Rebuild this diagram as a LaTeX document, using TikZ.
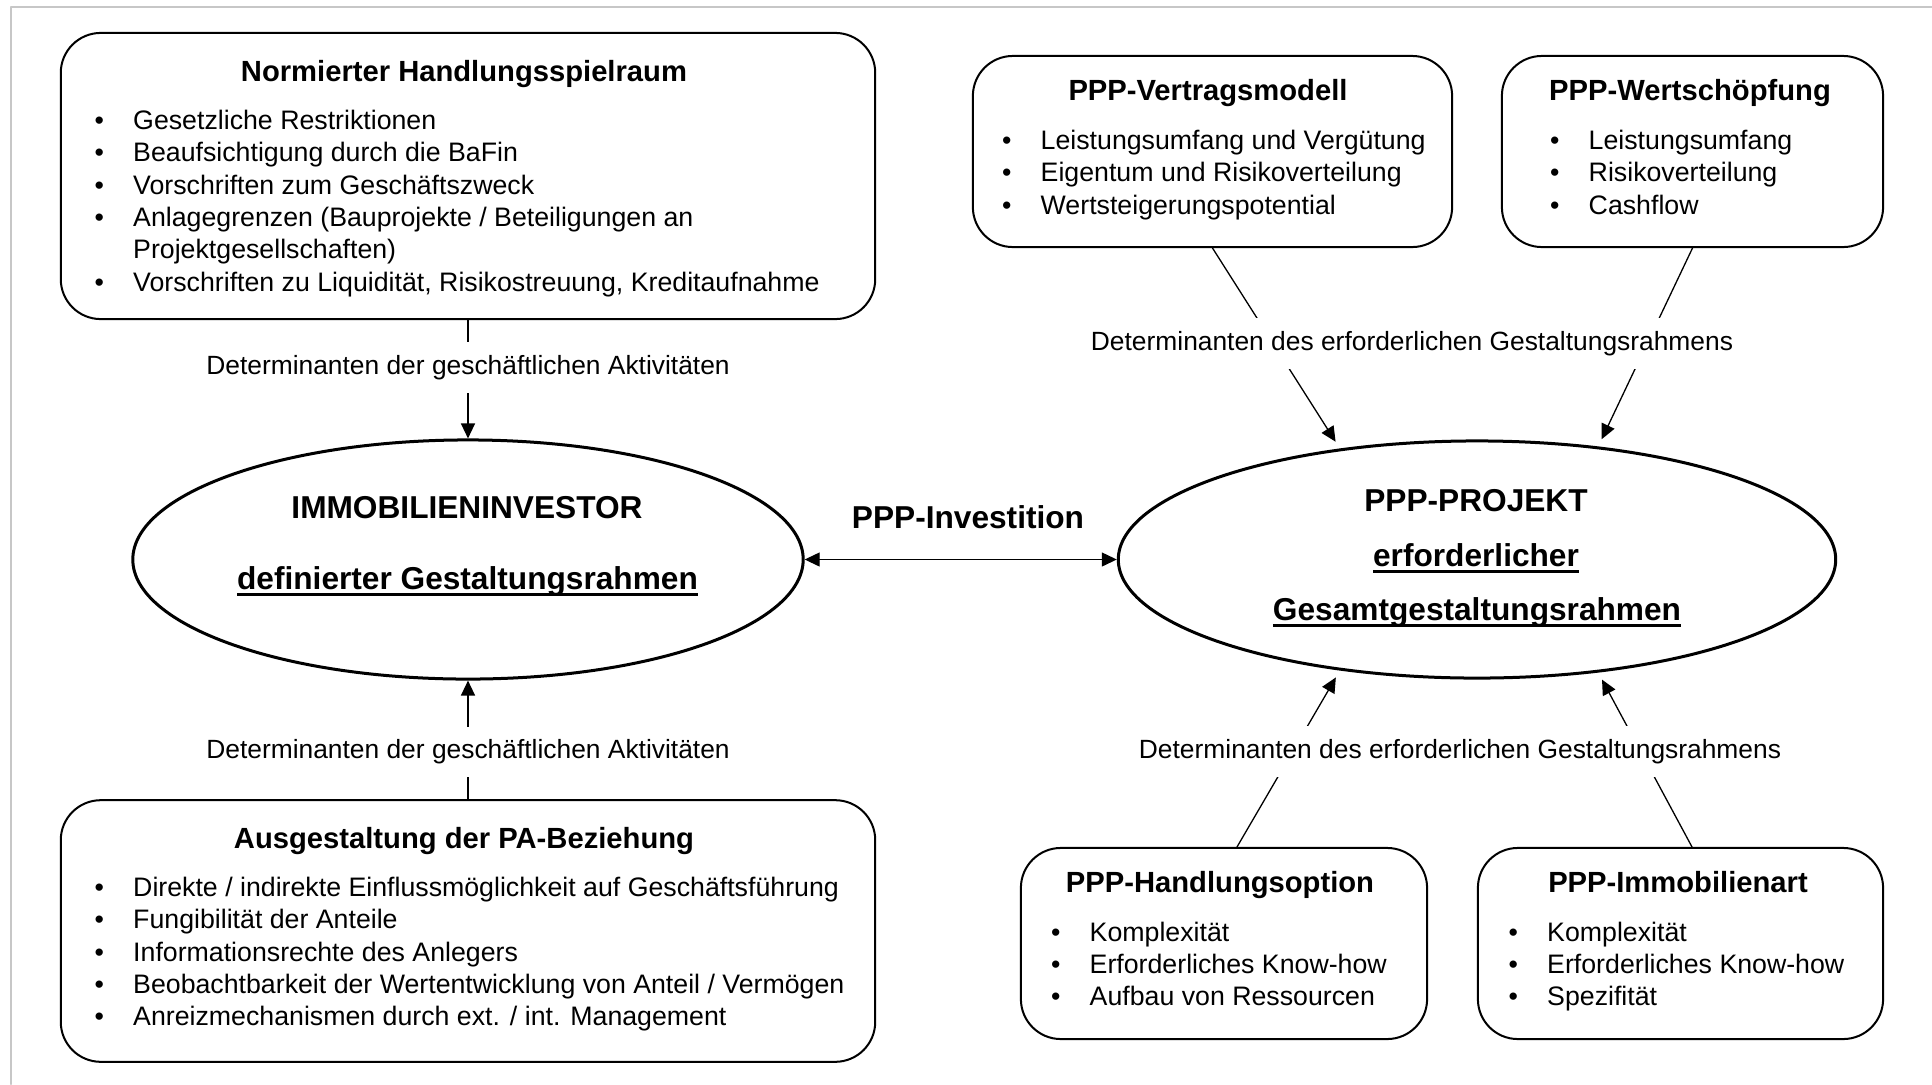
\documentclass[tikz,border=0pt]{standalone}
\usepackage{fontspec}
\setmainfont{Liberation Sans}
\usepackage{tikz}
\usetikzlibrary{arrows.meta,shapes.geometric}
\newcommand{\itm}[1]{\makebox[0.385cm][l]{\textbullet}#1}
\newcommand{\wordul}[1]{\setbox0\hbox{#1}\rlap{\rule[-2pt]{\wd0}{0.87pt}}\box0}

\begin{document}
\begin{tikzpicture}[line cap=round,line join=round,>={Triangle[length=0.15cm,width=0.14cm]},x=0.01cm,y=-0.01cm,
    rbox/.style={draw,line width=0.02cm,rounded corners=0.4cm,inner sep=0},
    oval/.style={draw,ellipse,line width=0.03cm,inner sep=0},
    conn/.style={line width=0.013cm},
    boxhead/.style={anchor=base,inner sep=0,font=\bfseries\fontsize{8.3}{10}\selectfont},
    boxlist/.style={anchor=base west,inner sep=0,font=\fontsize{7.6}{9.2}\selectfont},
    ovaltext/.style={anchor=base,inner sep=0,font=\bfseries\fontsize{9}{11}\selectfont},
    determ/.style={fill=white,inner sep=0,minimum height=0.5cm,font=\fontsize{7.5}{9}\selectfont}]
\useasboundingbox (0,0) rectangle (1932,1084);
\draw [line width=0.02cm,color=black!22] (11,1084)|- (1932,6.5);

\node [rbox,minimum width=8.14cm,minimum height=2.86cm] (nhs) at (468,176) {};
\node [boxhead] (nhs-t) at (464,81.5) {Normierter Handlungsspielraum};
\node [boxlist] (nhs-l) at (94,129.5) {\begin{tabular}[t]{@{}l@{}}
    \itm{Gesetzliche Restriktionen}\\
    \itm{Beaufsichtigung durch die BaFin}\\
    \itm{Vorschriften zum Geschäftszweck}\\
    \itm{Anlagegrenzen (Bauprojekte / Beteiligungen an}\\
    \hspace{0.385cm}Projektgesellschaften)\\
    \itm{Vorschriften zu Liquidität, Risikostreuung, Kreditaufnahme}
  \end{tabular}};

\node [rbox,minimum width=8.14cm,minimum height=2.615cm] (pab) at (468,931) {};
\node [boxhead] (pab-t) at (464,848) {Ausgestaltung der PA-Beziehung};
\node [boxlist] (pab-l) at (94,896.5) {\begin{tabular}[t]{@{}l@{}}
    \itm{Direkte / indirekte Einflussmöglichkeit auf Geschäftsführung}\\
    \itm{Fungibilität der Anteile}\\
    \itm{Informationsrechte des Anlegers}\\
    \itm{Beobachtbarkeit der Wertentwicklung von Anteil / Vermögen}\\
    \itm{Anreizmechanismen durch ext. / int. Management}
  \end{tabular}};

\node [rbox,minimum width=4.79cm,minimum height=1.91cm] (vm) at (1212.5,151.5) {};
\node [boxhead] (vm-t) at (1208,100.5) {PPP-Vertragsmodell};
\node [boxlist] (vm-l) at (1001.5,149.5) {\begin{tabular}[t]{@{}l@{}}
    \itm{Leistungsumfang und Vergütung}\\
    \itm{Eigentum und Risikoverteilung}\\
    \itm{Wertsteigerungspotential}
  \end{tabular}};

\node [rbox,minimum width=3.81cm,minimum height=1.91cm] (ws) at (1692.5,151.5) {};
\node [boxhead] (ws-t) at (1690,100.5) {PPP-Wertschöpfung};
\node [boxlist] (ws-l) at (1549.5,149.5) {\begin{tabular}[t]{@{}l@{}}
    \itm{Leistungsumfang}\\
    \itm{Risikoverteilung}\\
    \itm{Cashflow}
  \end{tabular}};

\node [rbox,minimum width=4.06cm,minimum height=1.91cm] (ho) at (1224,943.5) {};
\node [boxhead] (ho-t) at (1220,892.5) {PPP-Handlungsoption};
\node [boxlist] (ho-l) at (1050.5,941) {\begin{tabular}[t]{@{}l@{}}
    \itm{Komplexität}\\
    \itm{Erforderliches Know-how}\\
    \itm{Aufbau von Ressourcen}
  \end{tabular}};

\node [rbox,minimum width=4.05cm,minimum height=1.91cm] (ia) at (1680.5,943.5) {};
\node [boxhead] (ia-t) at (1678,892.5) {PPP-Immobilienart};
\node [boxlist] (ia-l) at (1508,941) {\begin{tabular}[t]{@{}l@{}}
    \itm{Komplexität}\\
    \itm{Erforderliches Know-how}\\
    \itm{Spezifität}
  \end{tabular}};

\node [oval,minimum width=6.70cm,minimum height=2.39cm] (inv) at (468,559.5) {};
\node [ovaltext] (inv-t1) at (467,518.5) {IMMOBILIENINVESTOR};
\node [ovaltext] (inv-t2) at (467.5,589) {\wordul{definierter Gestaltungsrahmen}};

\node [oval,minimum width=7.17cm,minimum height=2.37cm] (proj) at (1477,559.5) {};
\node [ovaltext] (proj-t1) at (1476,511.5) {PPP-PROJEKT};
\node [ovaltext] (proj-t2) at (1476,566) {\wordul{erforderlicher}};
\node [ovaltext] (proj-t3) at (1477,620) {\wordul{Gesamtgestaltungsrahmen}};

\node [inner sep=0,font=\bfseries\fontsize{9}{11}\selectfont] (ppi) at (968,517.5) {PPP-Investition};

\draw [conn,->] (nhs)-- (inv);
\draw [conn,->] (pab)-- (inv);
\draw [conn,<->] (inv)-- (proj);
\draw [conn,->,shorten >=0.08cm] (vm.south)-- (proj.141);
\draw [conn,->,shorten >=0.08cm] (ws.south)-- (proj.43);
\draw [conn,->,shorten >=0.08cm] ([xshift=0.13cm]ho.north)-- (proj.219);
\draw [conn,->,shorten >=0.08cm] ([xshift=0.115cm]ia.north)-- (proj.317);

\node [determ] (det-l1) at (468,367.5) {Determinanten der geschäftlichen Aktivitäten};
\node [determ] (det-l2) at (468,752) {Determinanten der geschäftlichen Aktivitäten};
\node [determ] (det-r1) at (1412,343.5) {Determinanten des erforderlichen Gestaltungsrahmens};
\node [determ] (det-r2) at (1460,751.5) {Determinanten des erforderlichen Gestaltungsrahmens};
\end{tikzpicture}
\end{document}
